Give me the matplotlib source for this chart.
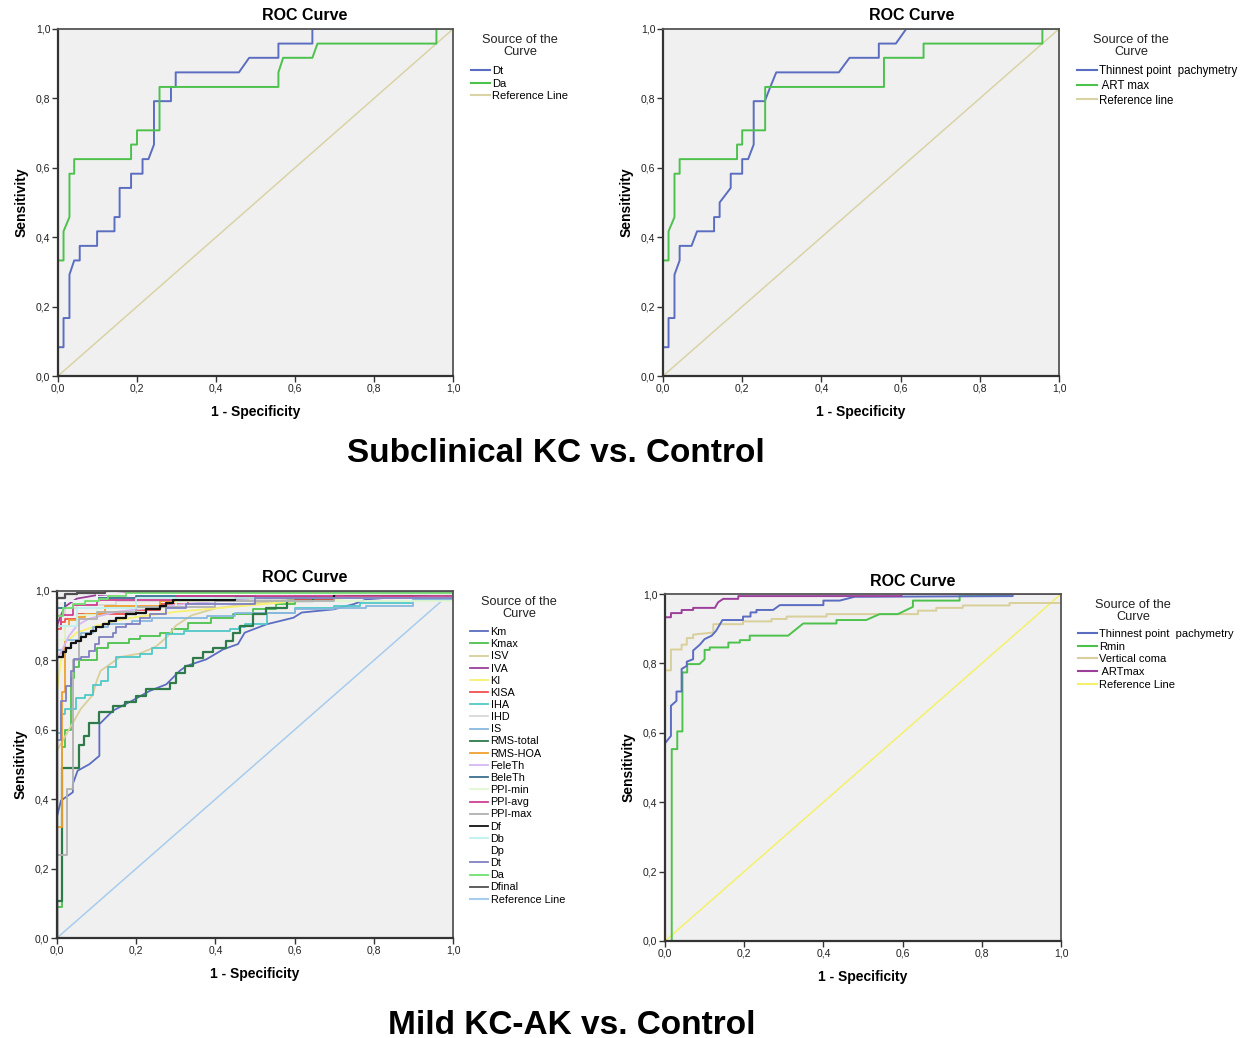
import numpy as np
import matplotlib
matplotlib.use("Agg")
import matplotlib.pyplot as plt
from matplotlib.lines import Line2D

plt.rcParams['font.family'] = ['Liberation Sans', 'DejaVu Sans']

tick_vals = [0.0, 0.2, 0.4, 0.6, 0.8, 1.0]
tick_labels = ['0,0', '0,2', '0,4', '0,6', '0,8', '1,0']

# ---- panel 1: Subclinical KC vs control (Dt, Da) ----
p1_dt_fpr = [0, 0, 0.014, 0.014, 0.029, 0.029, 0.041, 0.055, 0.055, 0.099, 0.099, 0.143, 0.143, 0.156, 0.156,
             0.185, 0.185, 0.214, 0.214, 0.229, 0.243, 0.243, 0.286, 0.286, 0.298, 0.298, 0.458, 0.484,
             0.558, 0.558, 0.644, 0.644, 1.0]
p1_dt_tpr = [0, 0.083, 0.083, 0.167, 0.167, 0.292, 0.333, 0.333, 0.375, 0.375, 0.417, 0.417, 0.458, 0.458, 0.542,
             0.542, 0.583, 0.583, 0.625, 0.625, 0.667, 0.792, 0.792, 0.833, 0.833, 0.875, 0.875, 0.917,
             0.917, 0.958, 0.958, 1.0, 1.0]
p1_da_fpr = [0, 0, 0.014, 0.014, 0.029, 0.029, 0.041, 0.041, 0.185, 0.185, 0.2, 0.2, 0.257, 0.257, 0.558, 0.558,
             0.57, 0.644, 0.657, 0.958, 0.958, 1.0]
p1_da_tpr = [0, 0.333, 0.333, 0.417, 0.458, 0.583, 0.583, 0.625, 0.625, 0.667, 0.667, 0.708, 0.708, 0.833, 0.833,
             0.875, 0.917, 0.917, 0.958, 0.958, 1.0, 1.0]

# ---- panel 2: thinnest point pachymetry, ART max ----
p2_tp_fpr = [0, 0, 0.014, 0.014, 0.029, 0.029, 0.042, 0.042, 0.072, 0.086, 0.129, 0.129, 0.143, 0.143, 0.171,
             0.171, 0.2, 0.2, 0.215, 0.229, 0.229, 0.257, 0.271, 0.286, 0.444, 0.471, 0.545, 0.545, 0.588,
             0.614, 1.0]
p2_tp_tpr = [0, 0.083, 0.083, 0.167, 0.167, 0.292, 0.333, 0.375, 0.375, 0.417, 0.417, 0.458, 0.458, 0.5, 0.542,
             0.583, 0.583, 0.625, 0.625, 0.667, 0.792, 0.792, 0.833, 0.875, 0.875, 0.917, 0.917, 0.958, 0.958,
             1.0, 1.0]
p2_art_fpr = [0, 0, 0.014, 0.014, 0.029, 0.029, 0.042, 0.042, 0.187, 0.187, 0.2, 0.2, 0.258, 0.258, 0.558, 0.558,
              0.658, 0.658, 0.958, 0.958, 1.0]
p2_art_tpr = [0, 0.333, 0.333, 0.417, 0.458, 0.583, 0.583, 0.625, 0.625, 0.667, 0.667, 0.708, 0.708, 0.833, 0.833,
              0.917, 0.917, 0.958, 0.958, 1.0, 1.0]

# ---- panel 3: mild KC vs control, many indices (step points: at x curve rises to y) ----
p3_names = ['Km', 'Kmax', 'ISV', 'IVA', 'KI', 'KISA', 'IHA', 'IHD', 'IS', 'RMS-total', 'RMS-HOA', 'FeleTh',
            'BeleTh', 'PPI-min', 'PPI-avg', 'PPI-max', 'Df', 'Db', 'Dp', 'Dt', 'Da', 'Dfinal']
p3_colors = ['#5B6DC0', '#4CC24C', '#D8CF9A', '#9B3F9B', '#F8F070', '#F05050', '#50C8C8', '#D8D8D8',
             '#88B8E0', '#2E7A4A', '#F0A030', '#D8B8F0', '#3A7090', '#E0F8D0', '#D04090', '#B0B0B0',
             '#111111', '#C0F0F0', '#FFFFFF', '#8080C0', '#70E070', '#505050']
p3_smooth = ['Km', 'ISV', 'KI', 'FeleTh', 'IVA']
p3_x = {
    'Km': [0, 0, 0.01, 0.04, 0.04, 0.052, 0.082, 0.107, 0.107, 0.141, 0.19, 0.234, 0.276, 0.31, 0.327, 0.377, 0.42,
           0.457, 0.474, 0.529, 0.597, 0.618, 0.698, 0.749, 0.782, 0.9, 1.0],
    'Kmax': [0, 0.013, 0.02, 0.035, 0.044, 0.056, 0.1, 0.13, 0.183, 0.21, 0.26, 0.29, 0.33, 0.39, 0.445, 0.495,
             0.554, 0.6, 0.62, 0.75, 0.9],
    'ISV': [0, 0, 0.02, 0.04, 0.06, 0.09, 0.1, 0.11, 0.16, 0.21, 0.25, 0.28, 0.3, 0.34, 0.4, 0.5, 0.6, 0.8, 1.0],
    'IVA': [0, 0, 0.01, 0.02, 0.05, 0.1, 0.2, 0.5, 1.0],
    'KI': [0, 0, 0.01, 0.02, 0.05, 0.1, 0.15, 0.2, 0.3, 0.4, 0.5, 0.6, 0.8, 1.0],
    'KISA': [0, 0.01, 0.02, 0.05, 0.2, 0.26, 0.33, 0.6, 0.7, 0.82, 0.9, 1.0],
    'IHA': [0, 0.01, 0.02, 0.048, 0.07, 0.09, 0.11, 0.13, 0.15, 0.21, 0.24, 0.276, 0.32, 0.436, 0.46, 0.474, 0.53,
            0.6, 0.7, 0.765, 0.9, 1.0],
    'IHD': [0, 0.02, 0.05, 0.15, 0.3, 0.6, 1.0],
    'IS': [0, 0.02, 0.06, 0.09, 0.13, 0.19, 0.24, 0.38, 0.45, 0.6, 0.7, 0.78, 0.9, 1.0],
    'RMS-total': [0, 0.013, 0.055, 0.068, 0.082, 0.107, 0.141, 0.171, 0.2, 0.225, 0.285, 0.301, 0.322, 0.343,
                  0.369, 0.395, 0.428, 0.445, 0.462, 0.495, 0.529, 0.58, 0.647, 0.698, 0.9, 1.0],
    'RMS-HOA': [0, 0.013, 0.02, 0.03, 0.05, 0.07, 0.12, 0.26, 0.4, 0.6, 1.0],
    'FeleTh': [0, 0, 0.03, 0.05, 0.08, 0.15, 0.3, 0.5, 1.0],
    'BeleTh': [0, 0.02, 0.1, 0.2, 0.5, 1.0],
    'PPI-min': [0, 0.02, 0.05, 0.1, 0.3, 1.0],
    'PPI-avg': [0, 0.01, 0.04, 0.1, 0.3, 1.0],
    'PPI-max': [0, 0.025, 0.041, 0.056, 0.1, 0.2, 0.4, 0.7, 1.0],
    'Df': [0, 0.014, 0.023, 0.035, 0.048, 0.061, 0.073, 0.086, 0.099, 0.116, 0.132, 0.149, 0.175, 0.2, 0.225,
           0.26, 0.276, 0.293, 0.45, 0.7, 1.0],
    'Db': [0, 0.05, 0.2, 1.0],
    'Dp': [0, 0.1, 1.0],
    'Dt': [0, 0.01, 0.023, 0.035, 0.044, 0.06, 0.082, 0.095, 0.107, 0.141, 0.149, 0.175, 0.21, 0.234, 0.276,
           0.327, 0.5, 1.0],
    'Da': [0, 0.014, 0.04, 0.07, 0.107, 0.13, 0.175, 1.0],
    'Dfinal': [0, 0.02, 0.05, 0.12, 1.0],
}
p3_y = {
    'Km': [0, 0.35, 0.396, 0.42, 0.444, 0.482, 0.501, 0.525, 0.616, 0.655, 0.684, 0.712, 0.731, 0.77, 0.784, 0.803,
           0.832, 0.847, 0.88, 0.904, 0.923, 0.938, 0.947, 0.962, 0.976, 0.986, 0.996],
    'Kmax': [0.09, 0.55, 0.6, 0.75, 0.78, 0.80, 0.837, 0.851, 0.861, 0.87, 0.88, 0.89, 0.909, 0.923, 0.933, 0.947,
             0.962, 0.971, 0.981, 0.99, 1.0],
    'ISV': [0, 0.54, 0.58, 0.62, 0.66, 0.70, 0.74, 0.77, 0.81, 0.82, 0.84, 0.87, 0.9, 0.93, 0.95, 0.965, 0.975,
            0.985, 1.0],
    'IVA': [0, 0.9, 0.93, 0.955, 0.978, 0.988, 0.995, 0.998, 1.0],
    'KI': [0, 0.71, 0.8, 0.85, 0.88, 0.9, 0.915, 0.925, 0.94, 0.95, 0.96, 0.97, 0.985, 1.0],
    'KISA': [0.89, 0.91, 0.92, 0.935, 0.945, 0.962, 0.97, 0.975, 0.98, 0.985, 0.99, 1.0],
    'IHA': [0.59, 0.645, 0.66, 0.693, 0.70, 0.73, 0.74, 0.78, 0.81, 0.818, 0.837, 0.875, 0.885, 0.89, 0.895, 0.904,
            0.938, 0.952, 0.957, 0.966, 0.975, 1.0],
    'IHD': [0.93, 0.95, 0.96, 0.97, 0.98, 0.99, 1.0],
    'IS': [0.83, 0.86, 0.88, 0.895, 0.905, 0.914, 0.923, 0.928, 0.938, 0.947, 0.952, 0.957, 0.975, 1.0],
    'RMS-total': [0.107, 0.49, 0.557, 0.583, 0.621, 0.65, 0.669, 0.679, 0.698, 0.717, 0.736, 0.765, 0.784, 0.806,
                  0.823, 0.837, 0.856, 0.88, 0.899, 0.933, 0.952, 0.971, 0.981, 0.988, 0.992, 1.0],
    'RMS-HOA': [0.32, 0.71, 0.9, 0.915, 0.925, 0.935, 0.957, 0.971, 0.98, 0.99, 1.0],
    'FeleTh': [0, 0.8, 0.87, 0.9, 0.92, 0.94, 0.96, 0.98, 1.0],
    'BeleTh': [0.95, 0.97, 0.98, 0.985, 0.99, 1.0],
    'PPI-min': [0.86, 0.9, 0.93, 0.95, 0.97, 1.0],
    'PPI-avg': [0.9, 0.93, 0.96, 0.975, 0.985, 1.0],
    'PPI-max': [0.24, 0.43, 0.80, 0.92, 0.94, 0.955, 0.97, 0.98, 1.0],
    'Df': [0.81, 0.823, 0.837, 0.849, 0.856, 0.866, 0.875, 0.885, 0.895, 0.904, 0.914, 0.923, 0.933, 0.938, 0.947,
           0.957, 0.966, 0.973, 0.98, 0.99, 1.0],
    'Db': [0.9, 0.95, 0.98, 1.0],
    'Dp': [0.97, 0.99, 1.0],
    'Dt': [0.57, 0.684, 0.727, 0.77, 0.803, 0.81, 0.827, 0.847, 0.866, 0.88, 0.895, 0.904, 0.923, 0.933, 0.952,
           0.962, 0.98, 1.0],
    'Da': [0.928, 0.952, 0.962, 0.97, 0.976, 0.986, 0.995, 1.0],
    'Dfinal': [0.98, 0.99, 0.995, 1.0, 1.0],
}

# ---- panel 4: mild KC vs control, selected parameters ----
p4_tp_fpr = [0, 0, 0.015, 0.015, 0.029, 0.029, 0.042, 0.042, 0.055, 0.055, 0.071, 0.071, 0.088, 0.1, 0.118,
             0.129, 0.145, 0.197, 0.197, 0.216, 0.216, 0.231, 0.231, 0.273, 0.29, 0.4, 0.4, 0.441, 0.479,
             0.878, 0.878, 1.0]
p4_tp_tpr = [0, 0.57, 0.591, 0.678, 0.692, 0.719, 0.719, 0.784, 0.793, 0.805, 0.812, 0.837, 0.854, 0.87, 0.88,
             0.894, 0.925, 0.925, 0.935, 0.935, 0.947, 0.947, 0.954, 0.954, 0.968, 0.968, 0.981, 0.981, 0.992,
             0.994, 1.0, 1.0]
p4_rmin_fpr = [0, 0.017, 0.017, 0.031, 0.031, 0.044, 0.044, 0.056, 0.056, 0.087, 0.1, 0.1, 0.113, 0.113, 0.16,
               0.16, 0.189, 0.189, 0.214, 0.214, 0.311, 0.349, 0.433, 0.433, 0.508, 0.542, 0.588, 0.626, 0.626,
               0.744, 0.744, 0.87, 0.87, 1.0]
p4_rmin_tpr = [0, 0, 0.553, 0.553, 0.604, 0.604, 0.774, 0.774, 0.798, 0.798, 0.812, 0.839, 0.839, 0.846, 0.846,
               0.86, 0.86, 0.867, 0.867, 0.88, 0.88, 0.915, 0.915, 0.925, 0.925, 0.942, 0.942, 0.963, 0.981,
               0.981, 0.995, 0.995, 1.0, 1.0]
p4_vc_fpr = [0, 0, 0.015, 0.015, 0.042, 0.042, 0.055, 0.055, 0.071, 0.071, 0.122, 0.122, 0.197, 0.197, 0.269,
             0.269, 0.307, 0.307, 0.408, 0.408, 0.639, 0.639, 0.685, 0.685, 0.752, 0.752, 0.87, 0.87, 1.0]
p4_vc_tpr = [0, 0.78, 0.78, 0.84, 0.84, 0.854, 0.854, 0.873, 0.873, 0.883, 0.889, 0.913, 0.913, 0.921, 0.921,
             0.928, 0.928, 0.935, 0.935, 0.942, 0.942, 0.952, 0.952, 0.96, 0.96, 0.967, 0.967, 0.974, 0.974]
p4_art_fpr = [0, 0, 0.015, 0.015, 0.042, 0.042, 0.071, 0.071, 0.126, 0.134, 0.147, 0.185, 0.185, 0.597, 0.597,
              1.0]
p4_art_tpr = [0, 0.933, 0.933, 0.945, 0.945, 0.954, 0.954, 0.96, 0.96, 0.976, 0.986, 0.986, 0.994, 0.994, 1.0,
              1.0]

W, H = 1260, 1038
fig = plt.figure(figsize=(W / 100, H / 100), dpi=100)


def px_axes(x0, x1, y_top, y_bot):
    return fig.add_axes([x0 / W, 1 - y_bot / H, (x1 - x0) / W, (y_bot - y_top) / H])


def style_axes(ax):
    ax.set_facecolor('#F0F0F0')
    ax.set_xlim(0, 1)
    ax.set_ylim(0, 1)
    ax.set_xticks(tick_vals)
    ax.set_xticklabels(tick_labels)
    ax.set_yticks(tick_vals)
    ax.set_yticklabels(tick_labels)
    ax.tick_params(labelsize=7.5, length=4, width=1, color='#333333', pad=1.5, labelcolor='#222222')
    for s in ['left', 'bottom']:
        ax.spines[s].set_linewidth(1.6)
        ax.spines[s].set_color('#333333')
    for s in ['top', 'right']:
        ax.spines[s].set_linewidth(1.3)
        ax.spines[s].set_color('#555555')
    ax.set_xlabel('1 - Specificity', fontsize=10, fontweight='bold', labelpad=8)
    ax.set_ylabel('Sensitivity', fontsize=10, fontweight='bold', labelpad=5)


def roc_title(xc, yc):
    fig.text(xc / W, 1 - yc / H, 'ROC Curve', ha='center', va='center', fontsize=11.5, fontweight='bold')


def legend_block(ax, handles, labels, x, y_title, y_top, fs=8, gap=0.24):
    fig.text(x[1] / W, 1 - y_title / H, 'Source of the\nCurve', ha='center', va='center',
             fontsize=9.2, linespacing=0.95, color='#222222')
    ax.legend(handles, labels, loc='upper left', bbox_to_anchor=(x[0] / W, 1 - y_top / H),
              bbox_transform=fig.transFigure, frameon=False, fontsize=fs, handlelength=1.7,
              handletextpad=0.2, labelspacing=gap, borderpad=0, borderaxespad=0)


def steps_to_vertices(xs, ys):
    vx, vy = [0.0], [0.0]
    for x, y in zip(xs, ys):
        vx += [x, x]
        vy += [vy[-1], y]
    return vx, vy


# panel 1
ax1 = px_axes(58, 453, 29, 376)
style_axes(ax1)
ax1.plot([0, 1], [0, 1], color='#D9D3A5', lw=1.1)
ax1.plot(p1_dt_fpr, p1_dt_tpr, color='#5B6DC0', lw=1.4)
ax1.plot(p1_da_fpr, p1_da_tpr, color='#4CC24C', lw=1.4)
roc_title(305, 16)
legend_block(ax1,
             [Line2D([], [], color='#5B6DC0'), Line2D([], [], color='#4CC24C'), Line2D([], [], color='#D9D3A5')],
             ['Dt', 'Da', 'Reference Line'], (471, 520), 46, 66)

# panel 2
ax2 = px_axes(663, 1059, 29, 376)
style_axes(ax2)
ax2.plot([0, 1], [0, 1], color='#D9D3A5', lw=1.1)
ax2.plot(p2_tp_fpr, p2_tp_tpr, color='#5B6DC0', lw=1.4)
ax2.plot(p2_art_fpr, p2_art_tpr, color='#4CC24C', lw=1.4)
roc_title(912, 16)
legend_block(ax2,
             [Line2D([], [], color='#5B6DC0'), Line2D([], [], color='#4CC24C'), Line2D([], [], color='#D9D3A5')],
             ['Thinnest point  pachymetry', ' ART max', 'Reference line'], (1077, 1131), 46, 65, fs=8.3)

# panel 3
ax3 = px_axes(57, 453, 591, 938)
style_axes(ax3)
ax3.plot([0, 1], [0, 1], color='#A8CCEE', lw=1.1)
handles3 = []
for name, col in zip(p3_names, p3_colors):
    if name in p3_smooth:
        vx, vy = p3_x[name], p3_y[name]
    else:
        vx, vy = steps_to_vertices(p3_x[name], p3_y[name])
    lw = 1.6 if name in ('Df', 'RMS-total', 'Dfinal') else 1.3
    ax3.plot(vx, vy, color=col, lw=lw)
    handles3.append(Line2D([], [], color=col, lw=1.3))
handles3.append(Line2D([], [], color='#A8CCEE'))
roc_title(305, 578)
legend_block(ax3, handles3, p3_names + ['Reference Line'], (470, 519), 608, 627, fs=7.8, gap=0.2)

# panel 4
ax4 = px_axes(665, 1061, 594, 941)
style_axes(ax4)
ax4.plot([0, 1], [0, 1], color='#F5F06A', lw=1.1)
ax4.plot(p4_vc_fpr, p4_vc_tpr, color='#D8CF9A', lw=1.4)
ax4.plot(p4_rmin_fpr, p4_rmin_tpr, color='#4CC24C', lw=1.4)
ax4.plot(p4_tp_fpr, p4_tp_tpr, color='#5B6DC0', lw=1.4)
ax4.plot(p4_art_fpr, p4_art_tpr, color='#9B3F9B', lw=1.4)
roc_title(913, 581)
legend_block(ax4,
             [Line2D([], [], color='#5B6DC0'), Line2D([], [], color='#4CC24C'), Line2D([], [], color='#D8CF9A'),
              Line2D([], [], color='#9B3F9B'), Line2D([], [], color='#F5F06A')],
             ['Thinnest point  pachymetry', 'Rmin', 'Vertical coma', ' ARTmax', 'Reference Line'],
             (1078, 1133), 611, 629, fs=8)

fig.text(556 / W, 1 - 453 / H, 'Subclinical KC vs. Control', ha='center', va='center', fontsize=24,
         fontweight='bold')
fig.text(572 / W, 1 - 1025 / H, 'Mild KC-AK vs. Control', ha='center', va='center', fontsize=24,
         fontweight='bold')

fig.savefig('out.png', dpi=100, facecolor='white')
